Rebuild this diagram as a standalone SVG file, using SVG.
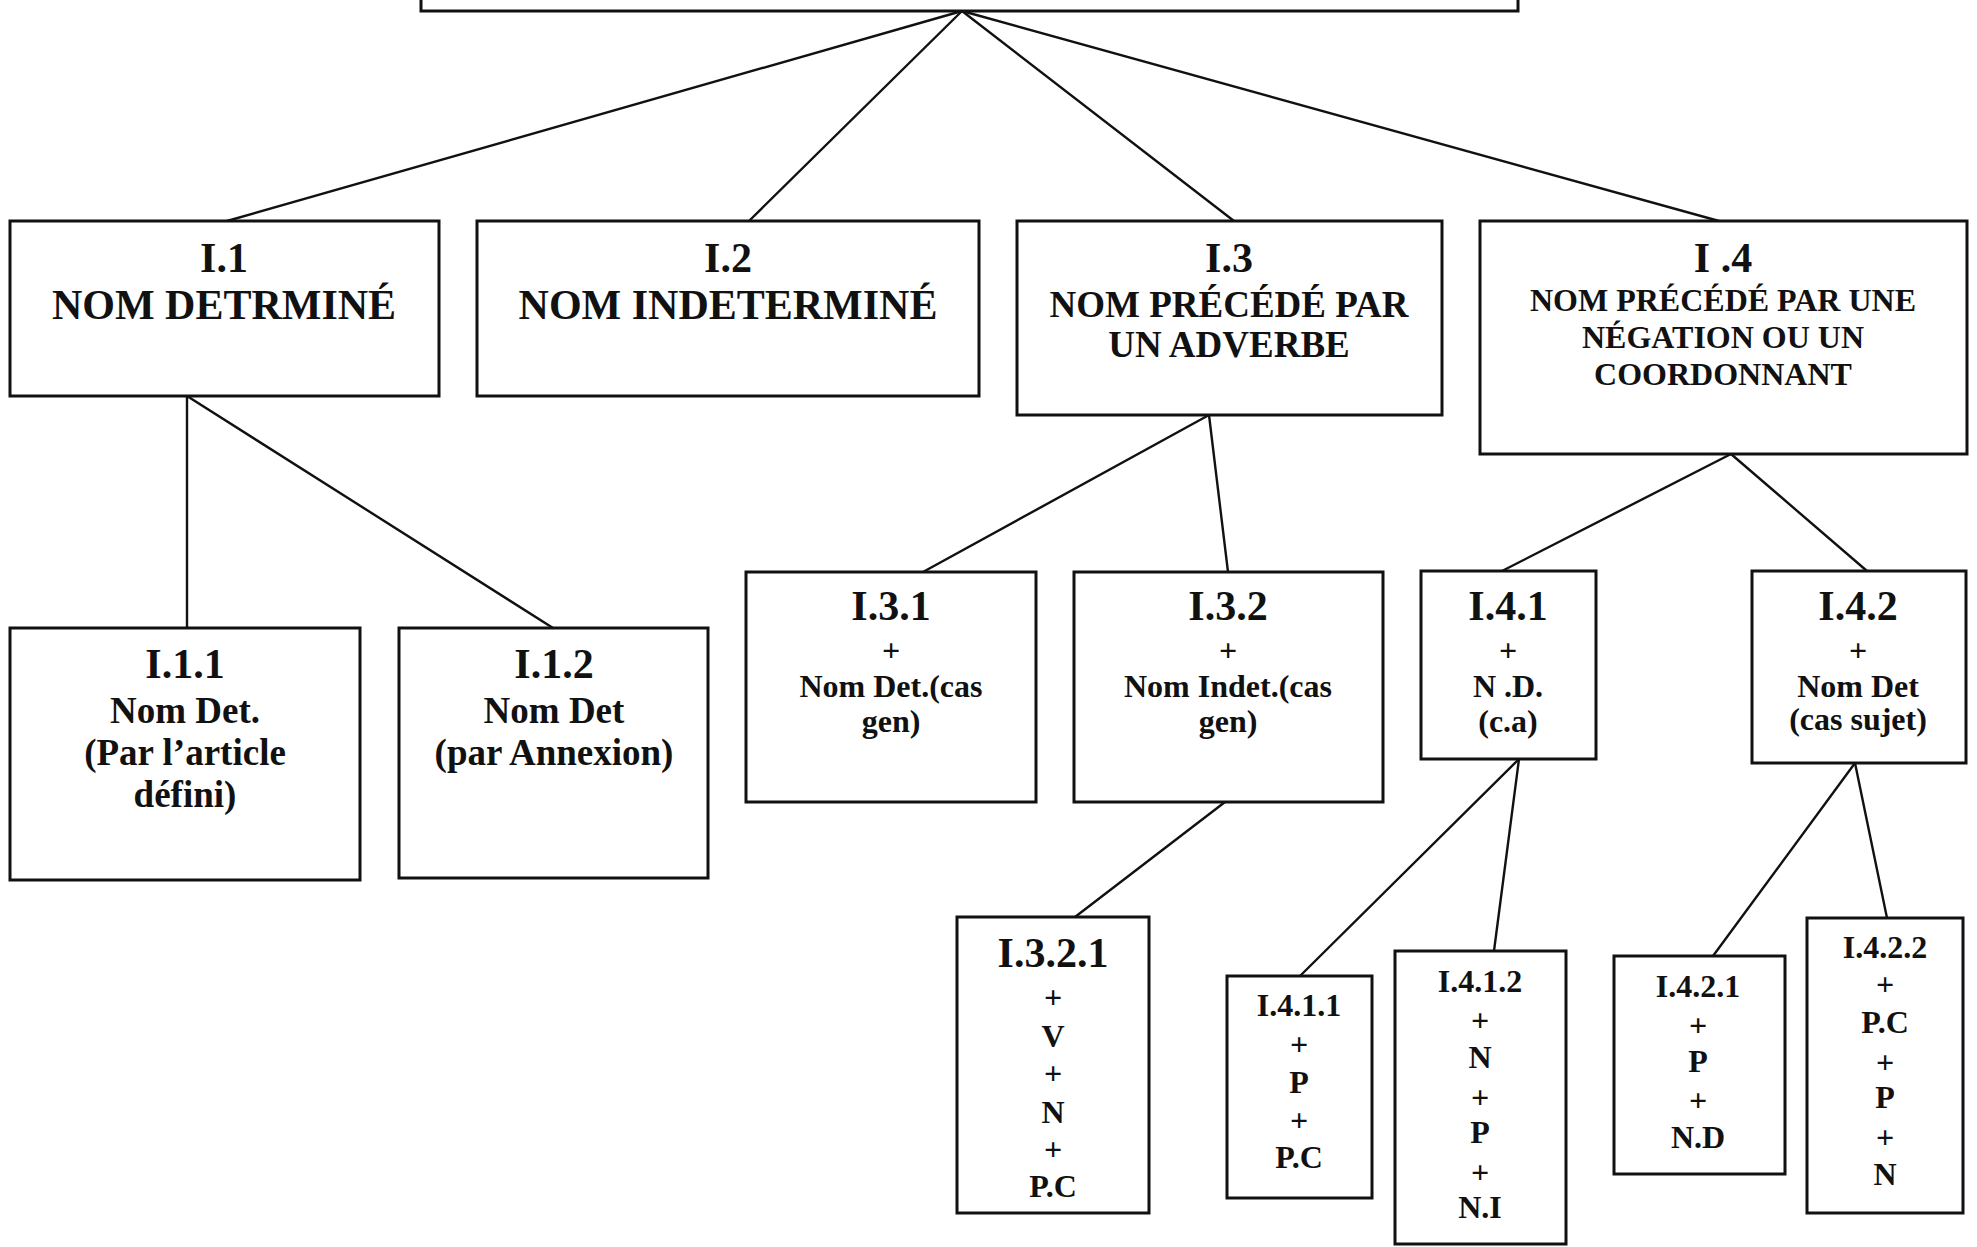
<svg xmlns="http://www.w3.org/2000/svg" width="1977" height="1247" viewBox="0 0 1977 1247">
  <style>
    .box { fill: #ffffff; stroke: #111111; stroke-width: 3; }
    .link { stroke: #111111; stroke-width: 2.4; fill: none; stroke-linecap: round; }
    text { font-family: "Liberation Serif", "Times New Roman", serif; font-weight: bold; fill: #111111; text-anchor: middle; }
    .h { font-size: 42px; }
    .t42 { font-size: 42px; }
    .t37 { font-size: 37px; }
    .t32 { font-size: 32px; }
  </style>
  <rect x="0" y="0" width="1977" height="1247" fill="#ffffff"/>

  <!-- connectors -->
  <g id="connectors">
    <line class="link" x1="962" y1="11" x2="227" y2="221"/>
    <line class="link" x1="962" y1="11" x2="749" y2="221"/>
    <line class="link" x1="962" y1="11" x2="1234" y2="221"/>
    <line class="link" x1="962" y1="11" x2="1719" y2="221"/>
    <line class="link" x1="187" y1="396" x2="187" y2="628"/>
    <line class="link" x1="187" y1="396" x2="553" y2="628"/>
    <line class="link" x1="1209" y1="415" x2="923" y2="572"/>
    <line class="link" x1="1209" y1="415" x2="1228" y2="572"/>
    <line class="link" x1="1731" y1="454" x2="1502" y2="571"/>
    <line class="link" x1="1731" y1="454" x2="1867" y2="571"/>
    <line class="link" x1="1225" y1="802" x2="1075" y2="917"/>
    <line class="link" x1="1519" y1="759" x2="1300" y2="976"/>
    <line class="link" x1="1519" y1="759" x2="1494" y2="951"/>
    <line class="link" x1="1855" y1="763" x2="1713" y2="956"/>
    <line class="link" x1="1855" y1="763" x2="1887" y2="918"/>
  </g>

  <!-- root (top edge runs off the page) -->
  <g id="root">
    <rect class="box" x="421" y="-20" width="1097" height="31"/>
  </g>

  <!-- level 1 -->
  <g id="n-I1">
    <rect class="box" x="10" y="221" width="429" height="175"/>
    <text class="h" x="224" y="272">I.1</text>
    <text class="t42" x="224" y="319">NOM DETRMINÉ</text>
  </g>
  <g id="n-I2">
    <rect class="box" x="477" y="221" width="502" height="175"/>
    <text class="h" x="728" y="272">I.2</text>
    <text class="t42" x="728" y="319">NOM INDETERMINÉ</text>
  </g>
  <g id="n-I3">
    <rect class="box" x="1017" y="221" width="425" height="194"/>
    <text class="h" x="1229" y="272">I.3</text>
    <text class="t37" x="1229" y="317">NOM PRÉCÉDÉ PAR</text>
    <text class="t37" x="1229" y="357">UN ADVERBE</text>
  </g>
  <g id="n-I4">
    <rect class="box" x="1480" y="221" width="487" height="233"/>
    <text class="h" x="1723" y="272">I .4</text>
    <text class="t32" x="1723" y="311">NOM PRÉCÉDÉ PAR UNE</text>
    <text class="t32" x="1723" y="348">NÉGATION OU UN</text>
    <text class="t32" x="1723" y="385">COORDONNANT</text>
  </g>

  <!-- level 2 -->
  <g id="n-I11">
    <rect class="box" x="10" y="628" width="350" height="252"/>
    <text class="h" x="185" y="678">I.1.1</text>
    <text class="t37" x="185" y="723">Nom Det.</text>
    <text class="t37" x="185" y="765">(Par l’article</text>
    <text class="t37" x="185" y="807">défini)</text>
  </g>
  <g id="n-I12">
    <rect class="box" x="399" y="628" width="309" height="250"/>
    <text class="h" x="554" y="678">I.1.2</text>
    <text class="t37" x="554" y="723">Nom Det</text>
    <text class="t37" x="554" y="765">(par Annexion)</text>
  </g>
  <g id="n-I31">
    <rect class="box" x="746" y="572" width="290" height="230"/>
    <text class="h" x="891" y="620">I.3.1</text>
    <text class="t32" x="891" y="661">+</text>
    <text class="t32" x="891" y="697">Nom Det.(cas</text>
    <text class="t32" x="891" y="732">gen)</text>
  </g>
  <g id="n-I32">
    <rect class="box" x="1074" y="572" width="309" height="230"/>
    <text class="h" x="1228" y="620">I.3.2</text>
    <text class="t32" x="1228" y="661">+</text>
    <text class="t32" x="1228" y="697">Nom Indet.(cas</text>
    <text class="t32" x="1228" y="732">gen)</text>
  </g>
  <g id="n-I41">
    <rect class="box" x="1421" y="571" width="175" height="188"/>
    <text class="h" x="1508" y="620">I.4.1</text>
    <text class="t32" x="1508" y="661">+</text>
    <text class="t32" x="1508" y="697">N .D.</text>
    <text class="t32" x="1508" y="732">(c.a)</text>
  </g>
  <g id="n-I42">
    <rect class="box" x="1752" y="571" width="214" height="192"/>
    <text class="h" x="1858" y="620">I.4.2</text>
    <text class="t32" x="1858" y="661">+</text>
    <text class="t32" x="1858" y="697">Nom Det</text>
    <text class="t32" x="1858" y="730">(cas sujet)</text>
  </g>

  <!-- level 3 -->
  <g id="n-I321">
    <rect class="box" x="957" y="917" width="192" height="296"/>
    <text class="h" x="1053" y="967">I.3.2.1</text>
    <text class="t32" x="1053" y="1008">+</text>
    <text class="t32" x="1053" y="1047">V</text>
    <text class="t32" x="1053" y="1084">+</text>
    <text class="t32" x="1053" y="1123">N</text>
    <text class="t32" x="1053" y="1160">+</text>
    <text class="t32" x="1053" y="1197">P.C</text>
  </g>
  <g id="n-I411">
    <rect class="box" x="1227" y="976" width="145" height="222"/>
    <text class="t32" x="1299" y="1016">I.4.1.1</text>
    <text class="t32" x="1299" y="1055">+</text>
    <text class="t32" x="1299" y="1093">P</text>
    <text class="t32" x="1299" y="1131">+</text>
    <text class="t32" x="1299" y="1168">P.C</text>
  </g>
  <g id="n-I412">
    <rect class="box" x="1395" y="951" width="171" height="293"/>
    <text class="t32" x="1480" y="992">I.4.1.2</text>
    <text class="t32" x="1480" y="1031">+</text>
    <text class="t32" x="1480" y="1068">N</text>
    <text class="t32" x="1480" y="1108">+</text>
    <text class="t32" x="1480" y="1143">P</text>
    <text class="t32" x="1480" y="1183">+</text>
    <text class="t32" x="1480" y="1218">N.I</text>
  </g>
  <g id="n-I421">
    <rect class="box" x="1614" y="956" width="171" height="218"/>
    <text class="t32" x="1698" y="997">I.4.2.1</text>
    <text class="t32" x="1698" y="1036">+</text>
    <text class="t32" x="1698" y="1072">P</text>
    <text class="t32" x="1698" y="1111">+</text>
    <text class="t32" x="1698" y="1148">N.D</text>
  </g>
  <g id="n-I422">
    <rect class="box" x="1807" y="918" width="156" height="295"/>
    <text class="t32" x="1885" y="958">I.4.2.2</text>
    <text class="t32" x="1885" y="995">+</text>
    <text class="t32" x="1885" y="1033">P.C</text>
    <text class="t32" x="1885" y="1073">+</text>
    <text class="t32" x="1885" y="1108">P</text>
    <text class="t32" x="1885" y="1148">+</text>
    <text class="t32" x="1885" y="1185">N</text>
  </g>
</svg>
